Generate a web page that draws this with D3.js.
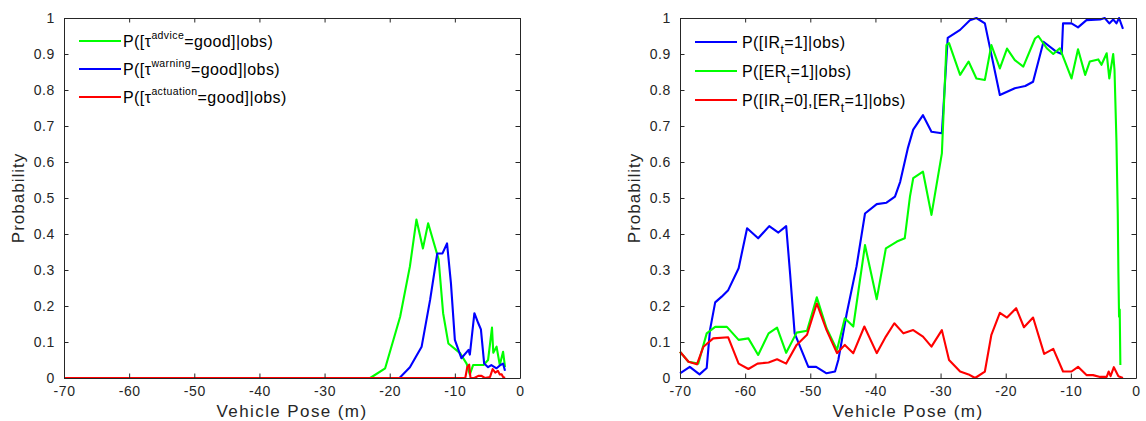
<!DOCTYPE html>
<html><head><meta charset="utf-8">
<script src="https://cdn.jsdelivr.net/npm/d3@7"></script>
<style>
body{margin:0;background:#fff;}
svg{display:block;font-family:"Liberation Sans",Arial,sans-serif;}
</style></head>
<body><svg id="c" width="1146" height="421"></svg>
<script>
// ---------- data ----------
const xTicks = [-70,-60,-50,-40,-30,-20,-10,0];
const yTicks = [0,0.1,0.2,0.3,0.4,0.5,0.6,0.7,0.8,0.9,1];

// left panel
const adviceX = [-70,-23,-20.7,-18.4,-16.9,-15.9,-14.9,-14.1,-12.5,-11.8,-11.0,-9.2,-8.2,-7.7,-7.2,-5.6,-4.9,-4.3,-4.1,-3.6,-3.1,-2.6,-2.3];
const adviceY = [0,0,0.027,0.17,0.31,0.44,0.36,0.43,0.33,0.18,0.096,0.069,0.04,0.01,0.036,0.036,0.05,0.14,0.07,0.087,0.036,0.073,0.03];
const warningX = [-70,-18.5,-16.9,-15.1,-13.8,-12.7,-11.9,-11.2,-10.6,-10.0,-9.0,-7.9,-7.7,-7.0,-6.4,-6.0,-5.5,-4.9,-4.4,-3.6,-3.0,-2.6,-2.3];
const warningY = [0,0,0.03,0.087,0.217,0.346,0.346,0.374,0.263,0.106,0.055,0.078,0.065,0.18,0.152,0.135,0.04,0.03,0.036,0.027,0.036,0.04,0.02];
const actuationX = [-70,-8.4,-8.1,-7.8,-7.6,-7.0,-6.4,-5.9,-5.4,-4.6,-4.2,-3.8,-3.4,-3.1,-2.8,-2.6,-2.3];
const actuationY = [0,0,0.03,0.037,0,0,0.006,0.006,0,0.003,0.025,0.015,0.02,0.01,0.01,0.003,0];

// right panel
const irX = [-70,-68.5,-67.0,-65.9,-65.4,-64.6,-63.6,-62.6,-61.0,-59.7,-58.0,-56.3,-54.9,-53.7,-53.1,-52.4,-50.3,-49.1,-47.5,-46.2,-45.7,-44.4,-42.9,-41.6,-39.8,-38.3,-37.0,-36.2,-35.0,-34.2,-32.7,-31.4,-29.8,-28.9,-27.0,-25.5,-24.5,-23.2,-20.9,-18.6,-17.0,-15.8,-14.2,-12.2,-11.4,-11.2,-9.9,-8.9,-7.6,-5.5,-4.8,-4.1,-3.5,-3.0,-2.6,-2.0];
const irY = [0.013,0.031,0.01,0.028,0.133,0.21,0.226,0.244,0.305,0.416,0.388,0.422,0.404,0.422,0.29,0.124,0.031,0.031,0.013,0.018,0.05,0.18,0.31,0.457,0.483,0.487,0.504,0.545,0.64,0.69,0.73,0.684,0.68,0.945,0.967,0.994,1.0,0.985,0.786,0.805,0.811,0.823,0.934,0.906,0.9,0.985,0.985,0.974,0.994,0.996,1.0,0.985,0.996,0.985,1.0,0.97];
const erX = [-70,-68.7,-67.2,-65.9,-64.6,-62.8,-61.0,-59.5,-58.0,-56.4,-55.1,-53.7,-52.1,-50.5,-49.0,-47.5,-45.9,-44.7,-43.4,-41.6,-39.8,-38.4,-36.7,-35.5,-34.7,-34.2,-32.7,-31.4,-29.8,-29.1,-28.7,-27.0,-25.7,-24.5,-23.2,-22.2,-20.9,-19.8,-18.6,-17.3,-15.5,-15.0,-13.7,-12.7,-11.7,-9.9,-8.9,-7.8,-7.1,-5.8,-5.3,-4.5,-4.1,-3.5,-3.3,-3.0,-2.8,-2.7,-2.6,-2.5,-2.4];
const erY = [0.073,0.045,0.04,0.124,0.142,0.142,0.106,0.11,0.064,0.124,0.14,0.07,0.126,0.131,0.224,0.138,0.078,0.166,0.143,0.369,0.219,0.36,0.379,0.388,0.504,0.555,0.573,0.453,0.624,0.925,0.93,0.842,0.879,0.832,0.828,0.925,0.86,0.915,0.883,0.865,0.943,0.95,0.916,0.9,0.916,0.832,0.913,0.842,0.879,0.885,0.87,0.902,0.832,0.9,0.856,0.656,0.457,0.29,0.17,0.19,0.036];
const ir0er1X = [-70,-68.7,-67.4,-66.4,-64.9,-62.6,-61.0,-59.5,-58.1,-56.4,-55.1,-53.7,-52.1,-50.5,-49.0,-47.5,-45.9,-44.7,-43.4,-41.7,-39.8,-38.4,-37.1,-35.7,-34.2,-32.7,-31.4,-29.8,-28.7,-27.0,-25.7,-24.7,-23.2,-22.2,-20.9,-19.8,-18.4,-17.2,-15.8,-14.1,-12.7,-11.2,-9.9,-8.9,-7.6,-6.6,-5.5,-4.5,-4.2,-3.9,-3.4,-2.7,-2.0];
const ir0er1Y = [0.073,0.045,0.038,0.087,0.11,0.113,0.04,0.025,0.04,0.043,0.052,0.04,0.092,0.12,0.207,0.133,0.069,0.092,0.069,0.143,0.069,0.115,0.152,0.124,0.133,0.115,0.087,0.133,0.05,0.018,0.01,0.0,0.018,0.12,0.181,0.168,0.194,0.141,0.168,0.067,0.081,0.018,0.018,0.031,0.008,0.008,0.003,0.003,0.018,0.005,0.03,0.005,0.0];

const xLabel = "Vehicle Pose (m)";
const yLabel = "Probability";

// ---------- drawing ----------
const svg = d3.select("#c");
const axisColor = "#262626";
const H = {top:18, bottom:378};

function panel(x0, x1, series, legend){
  const g = svg.append("g");
  const x = d3.scaleLinear().domain([-70,0]).range([x0,x1]);
  const y = d3.scaleLinear().domain([0,1]).range([H.bottom,H.top]);
  const tl = 4.5;
  const line = d3.line().x(d=>x(d[0])).y(d=>y(d[1]));
  series.forEach(s=>{
    g.append("path").datum(d3.zip(s.x,s.y)).attr("d",line)
      .attr("fill","none").attr("stroke",s.color).attr("stroke-width",2.1).attr("stroke-linejoin","round");
  });
  const ax = [
    g.append("g").attr("transform",`translate(0,${H.bottom})`).call(d3.axisBottom(x).tickValues(xTicks).tickSizeInner(-tl).tickSizeOuter(0).tickPadding(8).tickFormat(d=>d3.format("d")(d).replace("\u2212","-"))),
    g.append("g").attr("transform",`translate(0,${H.top})`).call(d3.axisTop(x).tickValues(xTicks).tickSizeInner(-tl).tickSizeOuter(0).tickFormat("")),
    g.append("g").attr("transform",`translate(${x0},0)`).call(d3.axisLeft(y).tickValues(yTicks).tickSizeInner(-tl).tickSizeOuter(0).tickPadding(9).tickFormat(d=>d===0?"0":d===1?"1":d3.format(".1f")(d))),
    g.append("g").attr("transform",`translate(${x1},0)`).call(d3.axisRight(y).tickValues(yTicks).tickSizeInner(-tl).tickSizeOuter(0).tickFormat(""))
  ];
  ax.forEach(a=>{
    a.select(".domain").attr("stroke",axisColor).attr("stroke-width",1);
    a.selectAll(".tick line").attr("stroke",axisColor);
    a.selectAll("text").attr("fill",axisColor).style("font-size","14px").style("letter-spacing","0.6px").style("font-family","'Liberation Sans',Arial,sans-serif");
  });
  g.append("text").attr("x",(x0+x1)/2).attr("y",417).attr("text-anchor","middle")
    .attr("fill",axisColor).style("font-size","17px").style("letter-spacing","1.4px").text(xLabel);
  g.append("text").attr("transform",`translate(${x0-40},${(H.top+H.bottom)/2}) rotate(-90)`)
    .attr("text-anchor","middle").attr("fill",axisColor).style("font-size","17px").style("letter-spacing","1px").text(yLabel);
  // legend
  legend.forEach(l=>{
    const ly = l.y;
    g.append("line").attr("x1",x0+15).attr("x2",x0+57).attr("y1",ly).attr("y2",ly)
      .attr("stroke",l.color).attr("stroke-width",2);
    const t = g.append("text").attr("x",x0+l.tx).attr("y",ly+6).attr("fill","#000")
      .style("font-size","16px").style("letter-spacing","0.4px");
    let pending = 0;
    l.parts.forEach(p=>{
      const sp = t.append("tspan");
      if(p.sup){
        sp.attr("dy",pending-8).style("font-size","10.5px"); pending = 8;
      } else if(p.sub){
        sp.attr("dy",pending+6).style("font-size","12px"); pending = -6;
      } else { sp.attr("dy",pending); pending = 0; }
      sp.text(p.t);
    });
  });
}

panel(64,520,[
  {x:adviceX,y:adviceY,color:"#00ff00"},
  {x:warningX,y:warningY,color:"#0000ff"},
  {x:actuationX,y:actuationY,color:"#ff0000"}
],[
  {y:41,tx:59,color:"#00ff00",parts:[{t:"P([τ"},{t:"advice",sup:true},{t:"=good]|obs)"}]},
  {y:69,tx:59,color:"#0000ff",parts:[{t:"P([τ"},{t:"warning",sup:true},{t:"=good]|obs)"}]},
  {y:97,tx:59,color:"#ff0000",parts:[{t:"P([τ"},{t:"actuation",sup:true},{t:"=good]|obs)"}]}
]);

panel(680,1136,[
  {x:irX,y:irY,color:"#0000ff"},
  {x:erX,y:erY,color:"#00ff00"},
  {x:ir0er1X,y:ir0er1Y,color:"#ff0000"}
],[
  {y:42,tx:62,color:"#0000ff",parts:[{t:"P([IR"},{t:"t",sub:true},{t:"=1]|obs)"}]},
  {y:71,tx:62,color:"#00ff00",parts:[{t:"P([ER"},{t:"t",sub:true},{t:"=1]|obs)"}]},
  {y:100,tx:62,color:"#ff0000",parts:[{t:"P([IR"},{t:"t",sub:true},{t:"=0],[ER"},{t:"t",sub:true},{t:"=1]|obs)"}]}
]);
</script></body></html>
